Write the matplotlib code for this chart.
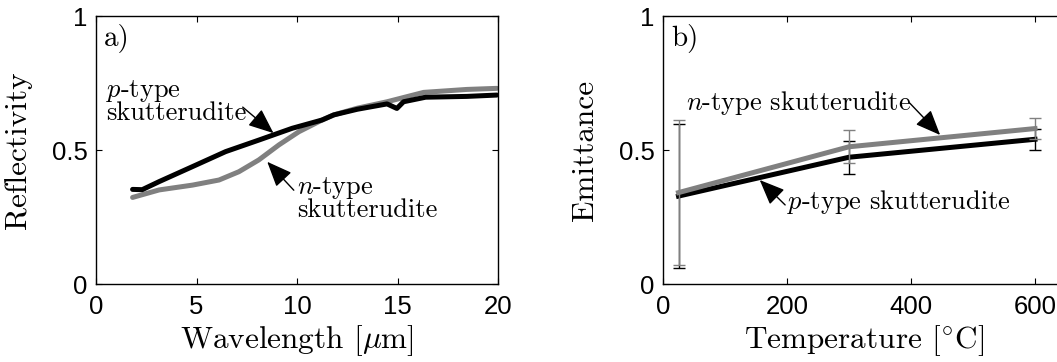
import matplotlib
matplotlib.use("Agg")
import matplotlib.pyplot as plt

plt.rcParams['mathtext.fontset'] = 'cm'
plt.rcParams['font.family'] = ['Liberation Sans', 'DejaVu Sans']

# Panel a: reflectivity spectra
wl_p = [1.82, 2.3, 3.14, 4.8, 6.45, 8.1, 9.76, 11.25, 11.83, 13.0, 14.48, 14.97, 15.3, 16.4, 18.45, 19.94]
refl_p = [0.353, 0.352, 0.382, 0.438, 0.494, 0.537, 0.581, 0.612, 0.631, 0.652, 0.672, 0.655, 0.68, 0.697, 0.70, 0.705]
wl_n = [1.82, 3.14, 4.8, 6.12, 7.11, 8.1, 9.1, 10.09, 11.25, 11.83, 13.0, 14.48, 16.3, 18.45, 19.94]
refl_n = [0.323, 0.351, 0.369, 0.388, 0.419, 0.463, 0.519, 0.568, 0.612, 0.631, 0.656, 0.680, 0.715, 0.726, 0.730]

# Panel b: emittance vs temperature
temp = [25, 300, 600]
emit_p = [0.328, 0.473, 0.54]
err_p = [0.27, 0.062, 0.04]
emit_n = [0.341, 0.512, 0.58]
err_n = [0.27, 0.062, 0.04]

GRAY = '#808080'
SERIF = 'cmr10'
FS_TICK = 18.5
FS_LAB = 22.5
FS_ANN = 19

fig = plt.figure(figsize=(10.57, 3.62), dpi=100)
W, H = 1057, 362

def ax_at(left_px, right_px, top_px, bottom_px):
    return fig.add_axes([left_px / W, 1 - bottom_px / H, (right_px - left_px) / W, (bottom_px - top_px) / H])

def style(ax):
    ax.tick_params(direction='in', top=True, right=True, labelsize=FS_TICK, length=4, width=0.8)
    ax.tick_params(axis='x', pad=8)
    ax.tick_params(axis='y', pad=6)
    for s in ax.spines.values():
        s.set_linewidth(1.0)

arrow = dict(arrowstyle='-|>,head_length=1.2,head_width=0.5', color='k', lw=1.0,
             shrinkA=0, shrinkB=0, mutation_scale=13)

ax1 = ax_at(96, 498, 16, 284)
ax1.plot(wl_p, refl_p, color='k', lw=3.6, solid_capstyle='round', solid_joinstyle='round', zorder=3)
ax1.plot(wl_n, refl_n, color=GRAY, lw=3.6, solid_capstyle='round', solid_joinstyle='round', zorder=2)
ax1.set_xlim(0, 20)
ax1.set_ylim(0, 1)
ax1.set_xticks([0, 5, 10, 15, 20])
ax1.set_yticks([0, 0.5, 1])
ax1.set_yticklabels(['0', '0.5', '1'])
style(ax1)
ax1.set_xlabel(r'Wavelength [$\mu$m]', fontsize=FS_LAB, family=SERIF, labelpad=3)
ax1.set_ylabel('Reflectivity', fontsize=FS_LAB, family=SERIF, labelpad=14)
ax1.text(0.02, 0.97, 'a)', transform=ax1.transAxes, fontsize=FS_ANN + 2, family=SERIF, va='top', ha='left')

ax1.text(0.5, 0.77, '$p$-type\nskutterudite', fontsize=FS_ANN, family=SERIF,
         va='top', ha='left', linespacing=0.85)
ax1.annotate('', xy=(8.83, 0.563), xytext=(7.3, 0.66), arrowprops=arrow)
ax1.text(10.0, 0.405, '$n$-type\nskutterudite', fontsize=FS_ANN, family=SERIF,
         va='top', ha='left', linespacing=0.85)
ax1.annotate('', xy=(8.52, 0.456), xytext=(9.84, 0.35), arrowprops=arrow)

ax2 = ax_at(663, 1066, 16, 284)
ax2.errorbar(temp, emit_p, yerr=err_p, color='k', lw=3.6, elinewidth=1.0, capsize=4, capthick=1.0, zorder=2)
ax2.errorbar(temp, emit_n, yerr=err_n, color=GRAY, lw=3.6, elinewidth=1.0, capsize=4, capthick=1.0, zorder=3)
ax2.set_xlim(0, 650)
ax2.set_ylim(0, 1)
ax2.set_xticks([0, 200, 400, 600])
ax2.set_yticks([0, 0.5, 1])
ax2.set_yticklabels(['0', '0.5', '1'])
style(ax2)
ax2.set_xlabel(r'Temperature [$^{\circ}$C]', fontsize=FS_LAB, family=SERIF, labelpad=3)
ax2.set_ylabel('Emittance', fontsize=FS_LAB, family=SERIF, labelpad=14)
ax2.text(0.02, 0.97, 'b)', transform=ax2.transAxes, fontsize=FS_ANN + 2, family=SERIF, va='top', ha='left')
ax2.text(37, 0.675, '$n$-type skutterudite', fontsize=FS_ANN, family=SERIF, va='center', ha='left')
ax2.annotate('', xy=(447, 0.556), xytext=(398, 0.675), arrowprops=arrow)
ax2.text(200, 0.305, '$p$-type skutterudite', fontsize=FS_ANN, family=SERIF, va='center', ha='left')
ax2.annotate('', xy=(156, 0.388), xytext=(197, 0.295), arrowprops=arrow)

fig.savefig('out.png', dpi=100)
